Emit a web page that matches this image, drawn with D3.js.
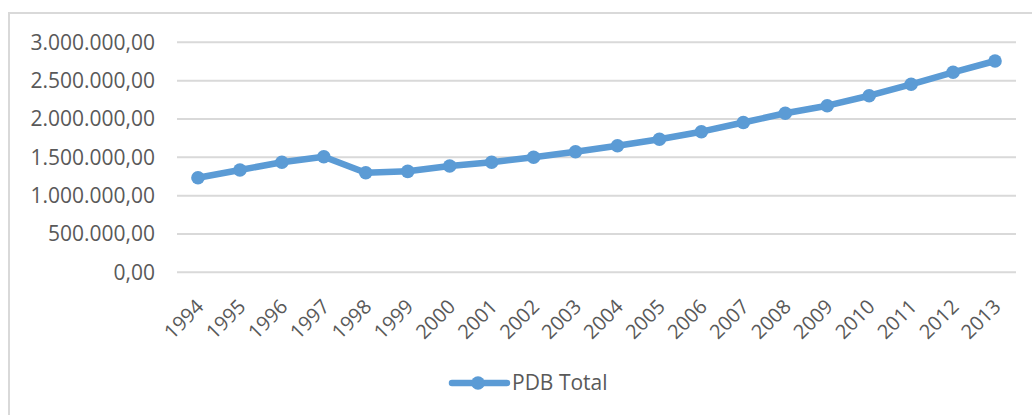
<!DOCTYPE html>
<html>
<head>
<meta charset="utf-8">
<script src="https://cdn.jsdelivr.net/npm/d3@7"></script>
<style>
  body { margin: 0; background: #fff; }
  text { font-family: "Open Sans", sans-serif; fill: #595959; }
</style>
</head>
<body>
<div id="chart"></div>
<script>
// data
var years = ["1994", "1995", "1996", "1997", "1998", "1999", "2000", "2001", "2002", "2003",
             "2004", "2005", "2006", "2007", "2008", "2009", "2010", "2011", "2012", "2013"];
var pdbTotal = [1234000, 1334000, 1435000, 1508000, 1299000, 1317000, 1387000, 1435000, 1500000, 1573000,
                1651000, 1735000, 1834000, 1954000, 2074000, 2173000, 2303000, 2452000, 2609000, 2756000];
var yTicks = [0, 500000, 1000000, 1500000, 2000000, 2500000, 3000000];
var seriesName = "PDB Total";

var width = 1032, height = 415;
var plotLeft = 177, plotRight = 1016, plotTop = 42.3, plotBottom = 272.3;
var blue = "#5b9bd5";

var svg = d3.select("#chart").append("svg")
    .attr("width", width)
    .attr("height", height);

// outer chart border
svg.append("rect")
    .attr("x", 9).attr("y", 13)
    .attr("width", 1040).attr("height", 420)
    .attr("fill", "none")
    .attr("stroke", "#d9d9d9")
    .attr("stroke-width", 2);

var x = d3.scaleBand().domain(years).range([plotLeft, plotRight]);
var y = d3.scaleLinear().domain([0, 3000000]).range([plotBottom, plotTop]);

var fmt = function (v) {
    // 3.000.000,00 style
    var s = d3.format(",.2f")(v);
    return s.replace(/,/g, "#").replace(".", ",").replace(/#/g, ".");
};

// gridlines
svg.append("g")
    .selectAll("line")
    .data(yTicks)
    .enter().append("line")
    .attr("x1", plotLeft).attr("x2", plotRight)
    .attr("y1", function (d) { return y(d); })
    .attr("y2", function (d) { return y(d); })
    .attr("stroke", "#d9d9d9")
    .attr("stroke-width", 2);

// y labels
svg.append("g")
    .selectAll("text")
    .data(yTicks)
    .enter().append("text")
    .attr("x", 155)
    .attr("y", function (d) { return y(d); })
    .attr("dy", "0.35em")
    .attr("text-anchor", "end")
    .style("font-size", "21px")
    .text(fmt);

// x labels, rotated
svg.append("g")
    .selectAll("text")
    .data(years)
    .enter().append("text")
    .attr("transform", function (d) {
        var cx = x(d) + x.bandwidth() / 2 + 2;
        return "translate(" + cx + ",303) rotate(-45)";
    })
    .attr("dy", "0.35em")
    .attr("text-anchor", "end")
    .style("font-size", "20px")
    .text(function (d) { return d; });

var line = d3.line()
    .x(function (d, i) { return x(years[i]) + x.bandwidth() / 2; })
    .y(function (d) { return y(d); });

svg.append("path")
    .datum(pdbTotal)
    .attr("d", line)
    .attr("fill", "none")
    .attr("stroke", blue)
    .attr("stroke-width", 6.5)
    .attr("stroke-linejoin", "round");

svg.append("g")
    .selectAll("circle")
    .data(pdbTotal)
    .enter().append("circle")
    .attr("cx", function (d, i) { return x(years[i]) + x.bandwidth() / 2; })
    .attr("cy", function (d) { return y(d); })
    .attr("r", 6.8)
    .attr("fill", blue);

// legend
var lg = svg.append("g").attr("transform", "translate(452,383)");
lg.append("line")
    .attr("x1", 0).attr("x2", 55)
    .attr("stroke", blue)
    .attr("stroke-width", 6.5)
    .attr("stroke-linecap", "round");
lg.append("circle").attr("cx", 26).attr("r", 6.8).attr("fill", blue);
lg.append("text")
    .attr("x", 60)
    .attr("dy", "0.35em")
    .style("font-size", "21px")
    .text(seriesName);
</script>
</body>
</html>
